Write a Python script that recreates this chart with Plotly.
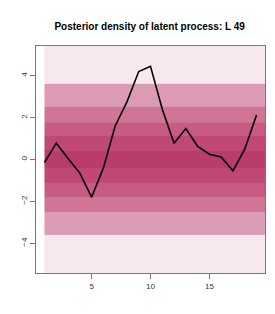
import plotly.graph_objects as go

# Time index and posterior mean of latent process
t = list(range(1, 20))
mean_vals = [-0.15, 0.78, 0.05, -0.65, -1.8, -0.4, 1.6, 2.75, 4.2, 4.45, 2.4, 0.78,
             1.48, 0.63, 0.25, 0.12, -0.54, 0.49, 2.13]

# Band boundaries (posterior density quantile bands) and their shading levels
band_edges = [-6.0, -3.6, -2.52, -1.77, -1.12, -0.4, 0.4, 1.12, 1.77, 2.52, 3.6, 6.0]
band_levels = [0, 1, 2, 3, 4, 5, 4, 3, 2, 1, 0]
band_colors = ["#f6e8ee", "#dc9bb4", "#d07595", "#c75b84", "#bf4874", "#b93c6c"]

x_edges = list(range(1, 21))
z = [[lvl for _ in t] for lvl in band_levels]

n = len(band_colors)
colorscale = []
for i, c in enumerate(band_colors):
    colorscale.append([i / n, c])
    colorscale.append([(i + 1) / n, c])

fig = go.Figure()
fig.add_trace(go.Heatmap(
    x=x_edges, y=band_edges, z=z,
    zmin=-0.5, zmax=n - 0.5,
    colorscale=colorscale, showscale=False, hoverinfo="skip",
))
fig.add_trace(go.Scatter(
    x=t, y=mean_vals, mode="lines",
    line=dict(color="black", width=1.6), showlegend=False,
))

axis_common = dict(
    showline=True, linecolor="#777777", linewidth=1, mirror=True,
    showgrid=False, zeroline=False, ticks="outside", ticklen=5,
    tickcolor="#777777", tickfont=dict(family="Liberation Sans, Arial", size=8, color="#333333"),
)
fig.update_layout(
    width=275, height=314,
    margin=dict(l=26, r=18, t=38, b=49),
    paper_bgcolor="white", plot_bgcolor="white",
    title=dict(text="<b>Posterior density of latent process: L 49</b>",
               x=0.515, xanchor="center", y=0.94, yanchor="middle",
               font=dict(family="Liberation Sans, Arial", size=10, color="black")),
)
fig.update_xaxes(range=[0.28, 19.72], tickvals=[5, 10, 15], **axis_common)
fig.update_yaxes(range=[-5.42, 5.42], tickvals=[-4, -2, 0, 2, 4], tickangle=-90, **axis_common)

fig.write_html("out.html")
